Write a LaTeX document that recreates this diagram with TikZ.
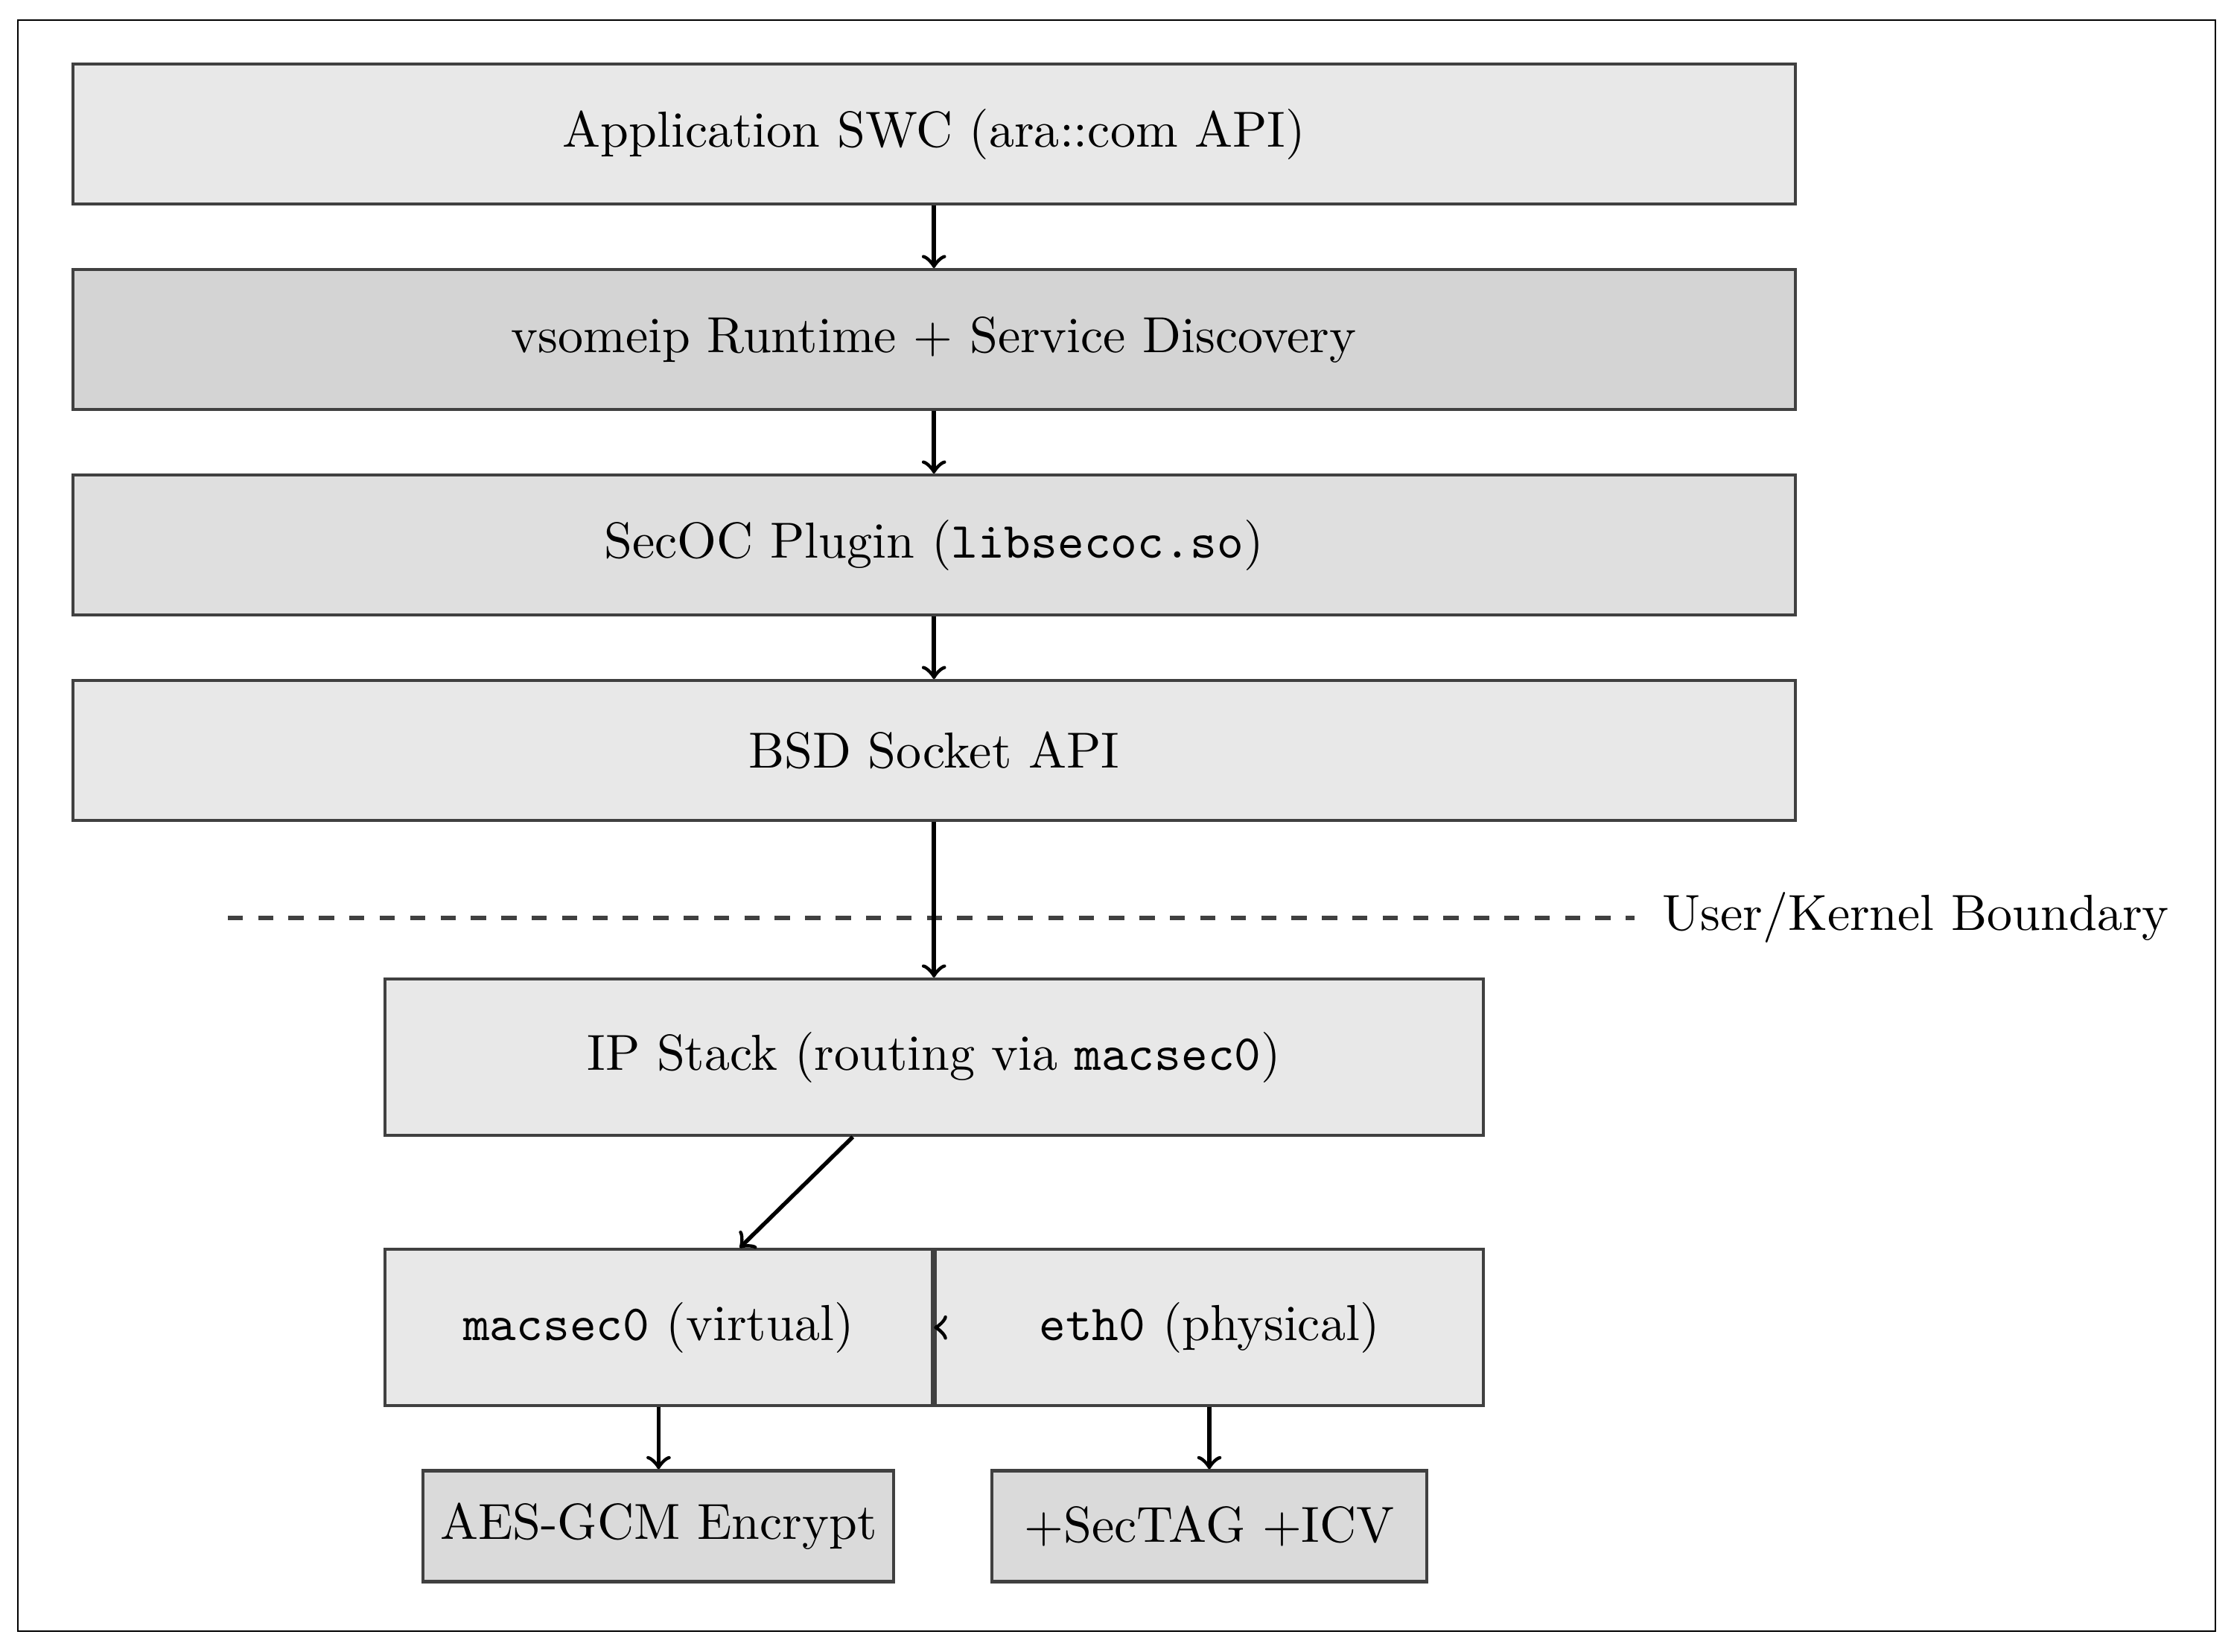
\documentclass[tikz,border=0pt]{standalone}
\usepackage{tikz}
\usetikzlibrary{positioning}

\definecolor{layerfill}{HTML}{E8E8E8}
\definecolor{runtimefill}{HTML}{D4D4D4}
\definecolor{pluginfill}{HTML}{DFDFDF}
\definecolor{opfill}{HTML}{DADADA}

\begin{document}
\begin{tikzpicture}[
    node distance=0.435cm,
    layer/.style={rectangle, draw=black!75, line width=0.6pt, fill=layerfill, minimum width=11.95cm, minimum height=0.97cm},
    iface/.style={rectangle, draw=black!75, line width=0.6pt, fill=layerfill, minimum width=3.8cm, minimum height=1.085cm},
    action/.style={rectangle, draw=black!75, line width=0.6pt, fill=opfill, minimum width=3.02cm, minimum height=0.77cm},
    boundary/.style={thick, dashed, black!75},
    arrow/.style={thick, ->}
]
    \useasboundingbox (0,0) rectangle (15.50,-11.46);
    \draw (0.124,-0.14) rectangle (15.37,-11.32);

    % user space
    \node (app)   [layer] at (6.48,-0.93) {Application SWC (ara::com API)};
    \node (vsome) [layer, fill=runtimefill, below=of app] {vsomeip Runtime $+$ Service Discovery};
    \node (secoc) [layer, fill=pluginfill, below=of vsome] {SecOC Plugin (\texttt{libsecoc.so})};
    \node (bsd)   [layer, below=of secoc] {BSD Socket API};

    % boundary
    \coordinate (kl) at (1.58,-6.37);
    \coordinate (kr) at (11.34,-6.37);
    \draw [boundary] (kl) -- (kr);
    \node (klabel) [right=0.07cm of kr] {User/Kernel Boundary};

    % kernel
    \node (ip)  [layer, minimum width=7.62cm, minimum height=1.085cm, below=1.08cm of bsd] {IP Stack (routing via \texttt{macsec0})};
    \node (mac) [iface, below left=0.77cm and 0cm of ip.south] {\texttt{macsec0} (virtual)};
    \node (eth) [iface, right=0cm of mac] {\texttt{eth0} (physical)};
    \node (aes)    [action, below=0.43cm of mac] {AES-GCM Encrypt};
    \node (sectag) [action, below=0.43cm of eth] {$+$SecTAG $+$ICV};

    \draw [arrow] (app) -- (vsome);
    \draw [arrow] (vsome) -- (secoc);
    \draw [arrow] (secoc) -- (bsd);
    \draw [arrow] (bsd) -- (ip);
    \draw [arrow] (ip) -- (mac);
    \draw [arrow] ([xshift=0.01cm]eth.west) -- (mac.east);
    \draw [arrow] (mac) -- (aes);
    \draw [arrow] (eth) -- (sectag);
\end{tikzpicture}
\end{document}
